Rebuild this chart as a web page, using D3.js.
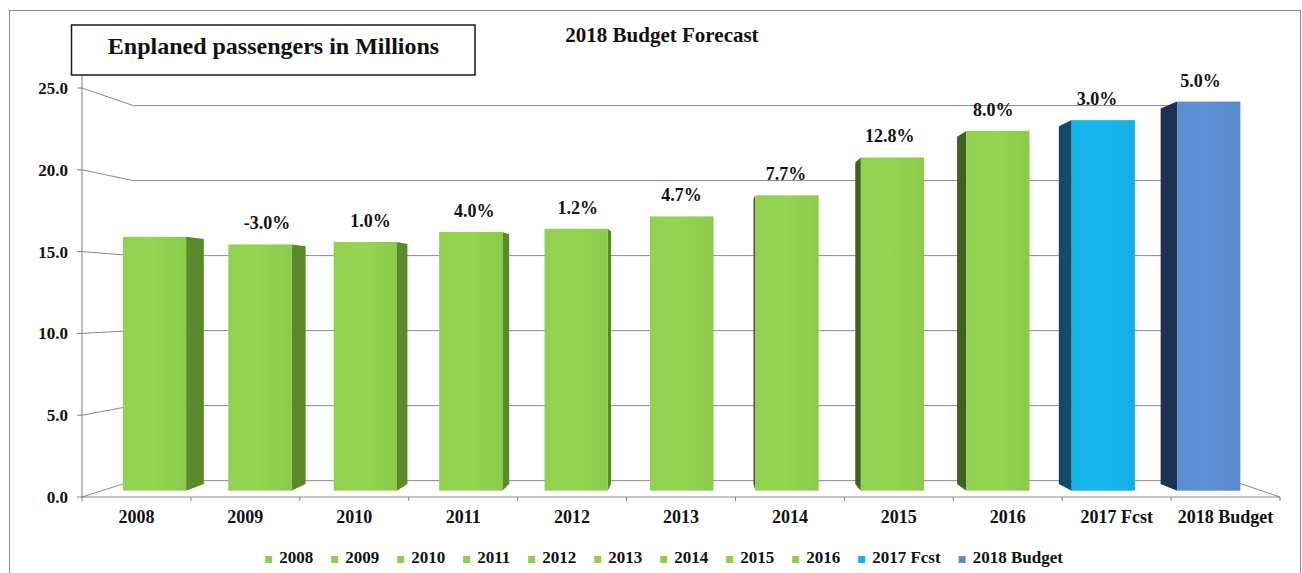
<!DOCTYPE html>
<html>
<head>
<meta charset="utf-8">
<script src="https://cdn.jsdelivr.net/npm/d3@7"></script>
<style>
  html, body { margin: 0; padding: 0; background: #ffffff; }
  svg { display: block; }
  svg text { font-family: "Liberation Serif", "DejaVu Serif", serif; font-weight: bold; }
</style>
</head>
<body>
<svg id="chart" width="1302" height="573"></svg>
<script>
// Enplaned passengers (millions) per year
const categories = ["2008", "2009", "2010", "2011", "2012", "2013", "2014", "2015", "2016", "2017 Fcst", "2018 Budget"];
const passengers = [16.03, 15.55, 15.71, 16.34, 16.54, 17.32, 18.65, 21.04, 22.72, 23.40, 24.57];
const growthLabels = ["", "-3.0%", "1.0%", "4.0%", "1.2%", "4.7%", "7.7%", "12.8%", "8.0%", "3.0%", "5.0%"];
const yTicks = [0, 5, 10, 15, 20, 25];
const faceColors = ["#8FCE4E", "#8FCE4E", "#8FCE4E", "#8FCE4E", "#8FCE4E", "#8FCE4E", "#8FCE4E", "#8FCE4E", "#8FCE4E", "#16B2E8", "#5A8CCF"];
const sideColors = ["#5A8A2B", "#5A8A2B", "#5A8A2B", "#5A8A2B", "#5A8A2B", "#5A8A2B", "#3E6320", "#3E6320", "#3E6320", "#0D4C6B", "#1D3253"];

const svg = d3.select("#chart");

// 3-D look: points on the front plane shrink toward a vanishing point with depth factor d
const vp = { x: 700, y: 300 };
const D_WALL = 0.917, D_BAR_FRONT = 0.968, D_BAR_BACK = 0.968 * 0.9655;
const proj = (wx, wy, d) => [vp.x + (wx - vp.x) * d, vp.y + (wy - vp.y) * d];

const x = d3.scaleBand().domain(categories).range([82, 1280]).paddingInner(0.4).paddingOuter(0.2);
const xCat = d3.scaleBand().domain(categories).range([82, 1280]).padding(0);
const y = d3.scaleLinear().domain([0, 25]).range([497, 88]);
const fmt = d3.format(".1f");

// outer frame
svg.append("rect")
  .attr("x", 9.5).attr("y", 10.5).attr("width", 1291).attr("height", 600)
  .attr("fill", "none").attr("stroke", "#8c8c8c").attr("stroke-width", 1);

// side wall + back wall gridlines
const grid = svg.append("g").attr("fill", "none").attr("stroke", "#8a8a8a").attr("stroke-width", 1);
yTicks.forEach(t => {
  const wy = y(t);
  const bl = proj(82, wy, D_WALL), br = proj(1280, wy, D_WALL);
  grid.append("path").attr("d", `M82,${wy}L${bl[0]},${bl[1]}L${br[0]},${br[1]}`);
});
// floor edges
const fr = proj(1280, y(0), D_WALL);
grid.append("path").attr("d", `M82,${y(0)}L1280,${y(0)}L${fr[0]},${fr[1]}`);

// value axis line and ticks
const axis = svg.append("g").attr("stroke", "#808080").attr("stroke-width", 1);
axis.append("line").attr("x1", 82).attr("x2", 82).attr("y1", y(0)).attr("y2", 72);
yTicks.forEach(t => {
  axis.append("line").attr("x1", 77).attr("x2", 82).attr("y1", y(t)).attr("y2", y(t));
});
d3.range(categories.length + 1).forEach(i => {
  const tx = 82 + i * xCat.step();
  axis.append("line").attr("x1", tx).attr("x2", tx).attr("y1", y(0)).attr("y2", y(0) + 4);
});

// y tick labels
svg.append("g").selectAll("text").data(yTicks).join("text")
  .attr("x", 68).attr("y", d => y(d) + 6)
  .attr("text-anchor", "end").attr("font-size", 17).attr("fill", "#111")
  .text(d => fmt(d));

// category labels
svg.append("g").selectAll("text").data(categories).join("text")
  .attr("x", d => xCat(d) + xCat.bandwidth() / 2).attr("y", 523)
  .attr("text-anchor", "middle").attr("font-size", 18).attr("fill", "#111")
  .text(d => d);

// front-face gradients
const defs = svg.append("defs");
faceColors.forEach((c, i) => {
  const g = defs.append("linearGradient").attr("id", "face" + i)
    .attr("x1", 0).attr("x2", 1).attr("y1", 0).attr("y2", 0);
  const base = d3.color(c);
  g.append("stop").attr("offset", "0%").attr("stop-color", base.brighter(0.04).formatHex());
  g.append("stop").attr("offset", "45%").attr("stop-color", base.brighter(0.1).formatHex());
  g.append("stop").attr("offset", "100%").attr("stop-color", base.darker(0.06).formatHex());
});

// bars
const bars = svg.append("g");
const labelPos = [];
categories.forEach((cat, i) => {
  const v = passengers[i];
  const wx0 = x(cat), wx1 = wx0 + x.bandwidth();
  const wyT = y(v), wyB = y(0);
  const f0 = proj(wx0, wyT, D_BAR_FRONT), f1 = proj(wx1, wyB, D_BAR_FRONT);
  const cx = (f0[0] + f1[0]) / 2;
  const edge = cx < vp.x ? wx1 : wx0;
  const side = [
    proj(edge, wyT, D_BAR_FRONT), proj(edge, wyB, D_BAR_FRONT),
    proj(edge, wyB, D_BAR_BACK), proj(edge, wyT, D_BAR_BACK)
  ];
  bars.append("path")
    .attr("d", "M" + side.map(p => p.join(",")).join("L") + "Z")
    .attr("fill", sideColors[i]);
  bars.append("rect")
    .attr("x", f0[0]).attr("y", f0[1])
    .attr("width", f1[0] - f0[0]).attr("height", f1[1] - f0[1])
    .attr("fill", `url(#face${i})`);
  const xs = [f0[0], f1[0], side[2][0], side[3][0]];
  labelPos.push({ x: (d3.min(xs) + d3.max(xs)) / 2, y: f0[1] - 15 });
});

// growth labels
svg.append("g").selectAll("text").data(growthLabels).join("text")
  .attr("x", (d, i) => labelPos[i].x).attr("y", (d, i) => labelPos[i].y)
  .attr("text-anchor", "middle").attr("font-size", 18).attr("fill", "#111")
  .text(d => d);

// legend
const legend = svg.append("g");
let lx = 0;
categories.forEach((cat, i) => {
  const item = legend.append("g").attr("transform", `translate(${lx},0)`);
  item.append("rect").attr("x", 0).attr("y", -7).attr("width", 7).attr("height", 7).attr("fill", faceColors[i]);
  const t = item.append("text").attr("x", 14).attr("y", 0).attr("font-size", 17).attr("fill", "#111").text(cat);
  lx += 14 + t.node().getComputedTextLength() + 18;
});
const legendWidth = lx - 18;
legend.attr("transform", `translate(${664 - legendWidth / 2},563)`);

// chart titles
svg.append("rect")
  .attr("x", 71.5).attr("y", 25).attr("width", 403.5).attr("height", 50)
  .attr("fill", "#ffffff").attr("stroke", "#1a1a1a").attr("stroke-width", 1.5);
svg.append("text")
  .attr("x", 273.5).attr("y", 54).attr("text-anchor", "middle")
  .attr("font-size", 24).attr("fill", "#111")
  .text("Enplaned passengers in Millions");
svg.append("text")
  .attr("x", 662).attr("y", 41.5).attr("text-anchor", "middle")
  .attr("font-size", 21).attr("fill", "#111")
  .text("2018 Budget Forecast");
</script>
</body>
</html>
